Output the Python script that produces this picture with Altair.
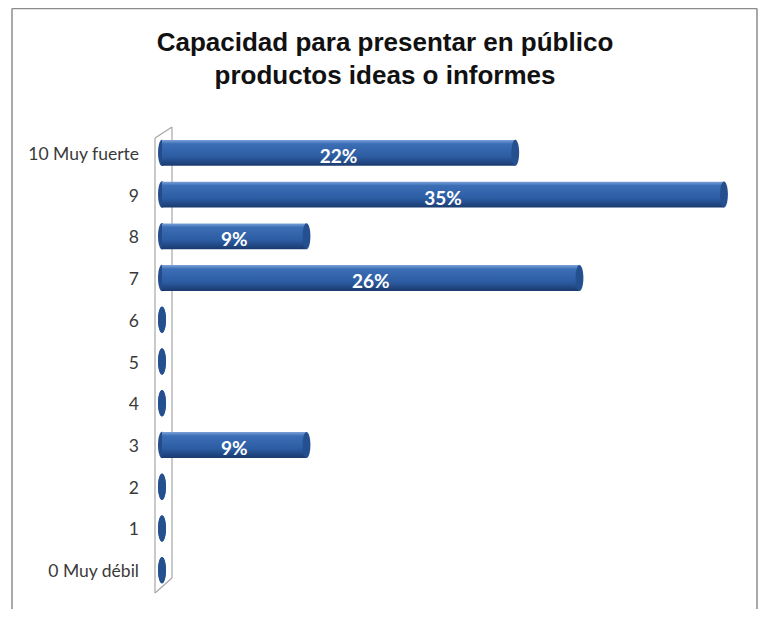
import altair as alt
import pandas as pd

CATEGORIES = ["10 Muy fuerte", "9", "8", "7", "6", "5", "4", "3", "2", "1", "0 Muy débil"]
VALUES = [22, 35, 9, 26, 0, 0, 0, 9, 0, 0, 0]
LABELS = ["22%", "35%", "9%", "26%", "", "", "", "9%", "", "", ""]
TITLE_LINES = ["Capacidad para presentar en público", "productos ideas o informes"]

df = pd.DataFrame({"cat": CATEGORIES, "val": VALUES, "lab": LABELS})

W, H = 751, 601

xs = alt.Scale(domain=[0, 35], range=[154, 716], nice=False, zero=True)
ys = alt.Scale(domain=CATEGORIES, range=[124, 583], paddingInner=0.38, paddingOuter=0.19)
X = alt.X("val:Q", scale=xs, axis=None)
Y = alt.Y("cat:N", scale=ys, axis=None, sort=CATEGORIES)

ELLIPSE = "M0,-1 A0.3,1 0 1,1 0,1 A0.3,1 0 1,1 0,-1 Z"

grad = alt.Gradient(
    gradient="linear", x1=0, y1=0, x2=0, y2=1,
    stops=[
        alt.GradientStop(offset=0, color="#7BA2D8"),
        alt.GradientStop(offset=0.15, color="#3C6EB6"),
        alt.GradientStop(offset=0.65, color="#2C5CA2"),
        alt.GradientStop(offset=1, color="#1A3A6E"),
    ],
)

base = alt.Chart(df)

left_cap = base.mark_point(shape=ELLIPSE, filled=True, size=700, opacity=1, color="#234C8C").encode(
    x=alt.X("zero:Q", scale=xs, axis=None), y=Y
).transform_calculate(zero="0")

bars = base.mark_bar(fill=grad).encode(
    x=X, x2=alt.X2(datum=0), y=Y
)

end_cap = base.mark_point(shape=ELLIPSE, filled=True, size=676, opacity=1, color="#24508F").encode(
    x=X, y=Y
)

pct = base.mark_text(font="Lato", fontWeight="bold", fontSize=19, color="white",
                     baseline="middle", dy=4).encode(
    x=alt.X("mid:Q", scale=xs, axis=None), y=Y, text="lab:N"
).transform_calculate(mid="datum.val / 2")

cat_labels = base.mark_text(font="Lato", fontSize=17.5, color="#3A3A3A", align="right",
                            baseline="middle", dy=2).encode(
    x=alt.value(131), y=Y, text="cat:N"
)

one = alt.Data(values=[{"a": 1}])

def rule(x1, y1, x2, y2, color="#A6A6A6", w=1.2):
    return alt.Chart(one).mark_rule(color=color, strokeWidth=w).encode(
        x=alt.value(x1), y=alt.value(y1), x2=alt.value(x2), y2=alt.value(y2)
    )

wall = (
    rule(147, 130, 147, 585) + rule(164, 119, 164, 570) +
    rule(147, 130, 164, 119) + rule(147, 585, 164, 570)
)

frame = (
    rule(4, 0.5, 749, 0.5, "#8C8C8C", 1.5) + rule(4, 0.5, 4, 620, "#8C8C8C", 1.5) +
    rule(749, 0.5, 749, 620, "#8C8C8C", 1.5)
)

def title_line(i, ypos):
    return alt.Chart(alt.Data(values=[{"t": TITLE_LINES[i]}])).mark_text(
        font="Liberation Sans", fontWeight="bold", fontSize=26, color="#111111",
        align="center", baseline="alphabetic"
    ).encode(x=alt.value(377), y=alt.value(ypos), text="t:N")

title = title_line(0, 43) + title_line(1, 76)

chart = alt.layer(frame, wall, left_cap, bars, end_cap, pct, cat_labels, title).properties(
    width=W, height=H, padding=0, autosize=alt.AutoSizeParams(type="none")
).configure_view(strokeWidth=0)

chart.save("out.html", embed_options={"renderer": "svg", "actions": False})
